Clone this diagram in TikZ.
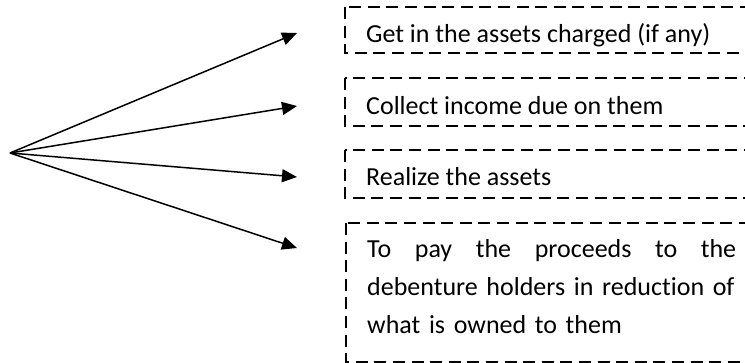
\documentclass[tikz,border=0pt]{standalone}
\usepackage{fontspec}
\setmainfont[Ligatures=NoCommon]{Carlito}
\usetikzlibrary{arrows.meta}
\begin{document}
\begin{tikzpicture}[x=1pt,y=-1pt,
  itembox/.style={draw, line width=1.6pt, dash pattern=on 12pt off 6.6pt},
  itemtext/.style={anchor=base west, inner sep=0pt,
    font=\fontsize{26}{38}\selectfont},
  fanarrow/.style={line width=1.5pt, -{Triangle[length=15pt,width=13pt]}}]
  \useasboundingbox (0,0) rectangle (745,363);
  \clip (0,0) rectangle (745,363);

  % dashed item boxes (they run past the right edge)
  \draw[itembox] (345,7)   rectangle (800,53)  coordinate (b1);
  \draw[itembox] (345,78)  rectangle (800,126) coordinate (b2);
  \draw[itembox] (345,150) rectangle (800,198) coordinate (b3);
  \draw[itembox] (346,223) rectangle (800,362) coordinate (b4);

  % item texts
  \node[itemtext] (l1) at (366,43)  {Get in the assets charged (if any)};
  \node[itemtext] (l2) at (366,115) {Collect income due on them};
  \node[itemtext] (l3) at (366,186) {Realize the assets};
  \node[itemtext, text width=369pt, align=left] (l4) at (367,258)
    {\hbox to 369pt{To\hfill pay\hfill the\hfill proceeds\hfill to\hfill the}\\
     debenture holders in reduction of\\
     what is owned to them};

  % fan of arrows
  \coordinate (o) at (10,153);
  \coordinate (t1) at (297,33);
  \coordinate (t2) at (297,106);
  \coordinate (t3) at (297,177);
  \coordinate (t4) at (297,248);
  \foreach \t in {t1,t2,t3,t4}
    \draw[fanarrow] (o) -- (\t);
\end{tikzpicture}
\end{document}
